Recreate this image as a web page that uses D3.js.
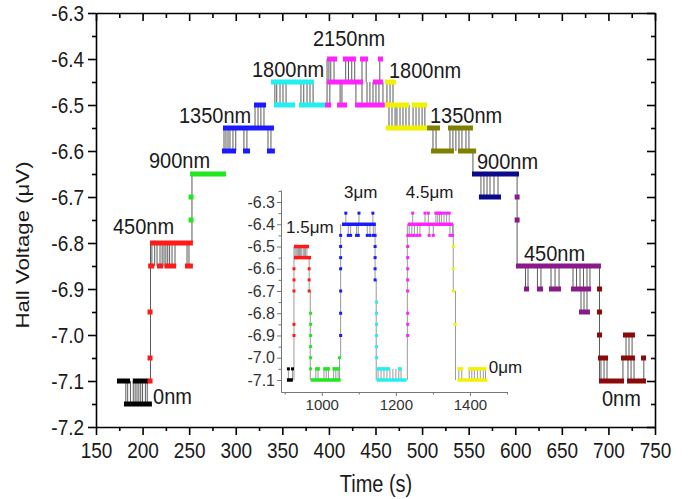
<!DOCTYPE html>
<html><head><meta charset="utf-8">
<script src="https://cdn.jsdelivr.net/npm/d3@7"></script>
<style>
body{margin:0;background:#fff}
svg{display:block}
text{font-family:Arial,"Liberation Sans",sans-serif}
</style>
</head><body>
<svg id="chart" width="698" height="499"></svg>
<script>
// ---------------- DATA ----------------
// main axes ticks
const xTicks = [150,200,250,300,350,400,450,500,550,600,650,700,750];
const xMinor = [175,225,275,325,375,425,475,525,575,625,675,725];
const yTicks = [-7.2,-7.1,-7.0,-6.9,-6.8,-6.7,-6.6,-6.5,-6.4,-6.3];
const yMinor = [-7.15,-7.05,-6.95,-6.85,-6.75,-6.65,-6.55,-6.45,-6.35];

// main series: flat runs [series, tStart, tEnd, voltage]
const mainRuns = [
  ["k",172.5,186.5,-7.1],["k",189.5,206,-7.1],["k",180,210,-7.15],
  ["r",208,254,-6.8],["r",206,212.5,-6.85],["r",215.5,222,-6.85],["r",223.5,236,-6.85],["r",245.5,254,-6.85],
  ["g",251,289.5,-6.65],
  ["b",286.3,341,-6.55],["b",285.2,300.3,-6.6],["b",307.8,315.3,-6.6],["b",333.5,342,-6.6],["b",319.6,332.5,-6.5],
  ["c",337.8,384,-6.45],["c",341,363.6,-6.5],["c",367.9,395.8,-6.5],
  ["m",398,408.7,-6.4],["m",415,429,-6.4],["m",433.4,442,-6.4],["m",452.7,458,-6.4],
  ["m",398,436.6,-6.45],["m",447.3,458,-6.45],
  ["m",395.8,402.3,-6.5],["m",408.7,419.4,-6.5],["m",428,460,-6.5],
  ["y",460.2,472,-6.45],["y",460.2,486,-6.5],["y",489,505.3,-6.5],["y",461,505.3,-6.55],
  ["o",505.3,519.2,-6.55],["o",527.8,554.6,-6.55],["o",509.6,534.3,-6.6],["o",538.5,558,-6.6],
  ["n",553.6,604,-6.65],["n",561,584.7,-6.7],
  ["p",600.8,692,-6.85],["p",609.4,614.8,-6.9],["p",623.3,629.8,-6.9],["p",636.2,649.1,-6.9],["p",659.8,681.3,-6.9],["p",668.4,680.2,-6.95],
  ["w",688.8,699.6,-7.05],["w",713.5,728.5,-7.05],["w",735,740.3,-7.05],
  ["w",689.9,716.7,-7.1],["w",720,740.3,-7.1],["w",715.6,728.5,-7.0]
];
// main single points [series, t, voltage]
const mainPoints = [
  ["r",208,-7.1],["r",208,-7.05],["r",208,-6.95],
  ["g",252,-6.75],["g",252,-6.7],
  ["p",602,-6.7],["p",602,-6.75],
  ["w",690.4,-6.9],["w",690.4,-6.95],["w",690.4,-7.0]
];
// main switching (grey connecting lines): [vA, vB, times]
const mainSwitches = [
  [-7.1,-7.15,[182,184,187,190,192,194,196,198,200,203,205]],
  [-7.1,-6.8,[208.5]],
  [-6.8,-6.85,[210,213,215.5,218.7,221,223,225,227,229,231.6,234.8,247.7,249.8]],
  [-6.8,-6.65,[253]],
  [-6.55,-6.6,[287.4,289.5,291.7,293.8,297,300,308.8,312,334.6,337.8]],
  [-6.5,-6.55,[320.7,323.9,327,330.3]],
  [-6.45,-6.5,[342,344,347.5,350.7,354,370,373,376.5,379.7,383]],
  [-6.4,-6.5,[398]],
  [-6.4,-6.45,[400,402,405.5,418,421,424.5,427.7,435.5,440,454.6]],
  [-6.45,-6.5,[401,412,414,429,435.5,440.9,444,447.3,450.5,453.7,458,462.3,465.6,468.8]],
  [-6.5,-6.55,[464.5,467.7,471,473,476.3,479.5,482.7,486,490.3,493.5,496.7,500,503]],
  [-6.55,-6.6,[511.7,515,529.9,533.1,536.3,539.6,542.8,547.1,550.3]],
  [-6.6,-6.65,[554.6]],
  [-6.65,-6.7,[563.2,566.4,569.7,572.9,577.2,581.5]],
  [-6.65,-6.85,[602]],
  [-6.85,-6.9,[611,613.7,623.8,627.6,638.4,642.7,647,662,665.8,669.5,673.3,677,680.2]],
  [-6.9,-6.95,[670.6,673.8,677]],
  [-6.85,-7.1,[690.4]],
  [-7.05,-7.1,[692,695.3,698.5,715.6,721,724.3,727.5,738]],
  [-7.0,-7.05,[718.9,722.1,725.4]]
];
// main annotations [text, t, voltage] (left baseline)
const mainLabels = [
  ["0nm",211.2,-7.148],["450nm",168.2,-6.778],["900nm",206.9,-6.635],
  ["1350nm",239.1,-6.537],["1800nm",317.4,-6.437],["2150nm",382.9,-6.370],
  ["1800nm",464.5,-6.439],["1350nm",508.5,-6.537],["900nm",558.9,-6.637],
  ["450nm",609.4,-6.837],["0nm",693.1,-7.152]
];

// inset
const ixTicks = [1000,1200,1400];
const ixMinor = [900,1100,1300,1500];
const iyTicks = [-7.1,-7.0,-6.9,-6.8,-6.7,-6.6,-6.5,-6.4,-6.3];
const iyMinor = [-7.05,-6.95,-6.85,-6.75,-6.65,-6.55,-6.45,-6.35,-6.25];
const insetRuns = [
  ["k",906,922,-7.1],
  ["r",925,965.6,-6.5],["r",925,971,-6.55],
  ["g",970,1051,-7.1],["g",982,995,-7.05],["g",1004,1022,-7.05],["g",1029,1049,-7.05],
  ["b",1054.6,1146,-6.4],
  ["c",1148,1229,-7.1],["c",1148,1184,-7.05],["c",1206,1216,-7.05],
  ["m",1232,1355,-6.4],
  ["y",1366,1447,-7.1],["y",1366,1382,-7.05],["y",1395.6,1445,-7.05]
];
const insetPoints = [
  ["k",910,-7.05],["k",921,-7.05],
  ["r",925,-6.9],["r",925,-6.85],["r",925,-6.7],["r",925,-6.65],["r",925,-6.6],
  ["r",966,-6.6],["r",966,-6.65],["r",966,-6.7],
  ["g",970,-6.8],["g",970,-6.85],["g",970,-6.9],["g",970,-6.95],["g",970,-7.0],["g",970,-7.05],["g",1048,-7.0],
  ["b",1051,-6.9],["b",1051,-6.8],["b",1051,-6.7],["b",1051,-6.6],["b",1051,-6.55],["b",1051,-6.5],["b",1051,-6.45],
  ["b",1065,-6.35],["b",1100.5,-6.35],["b",1138,-6.35],
  ["b",1071.6,-6.45],["b",1078,-6.45],["b",1094,-6.45],["b",1098.6,-6.45],["b",1122.9,-6.45],["b",1130,-6.45],["b",1139,-6.45],
  ["b",1144,-6.45],["b",1144,-6.5],["b",1144,-6.55],["b",1144,-6.6],["b",1144,-6.65],
  ["c",1148,-6.75],["c",1148,-6.8],["c",1148,-6.85],["c",1148,-6.9],["c",1148,-6.95],["c",1148,-7.0],
  ["m",1232,-6.45],["m",1232,-6.5],["m",1232,-6.55],["m",1232,-6.6],["m",1232,-6.65],["m",1232,-6.7],["m",1232,-6.8],["m",1232,-6.85],["m",1232,-6.9],
  ["m",1245.5,-6.35],["m",1278.7,-6.35],["m",1287.6,-6.35],["m",1308,-6.35],["m",1313,-6.35],["m",1318,-6.35],["m",1323,-6.35],["m",1330,-6.35],["m",1337,-6.35],["m",1344,-6.35],
  ["m",1236,-6.45],["m",1243,-6.45],["m",1250,-6.45],["m",1258,-6.45],["m",1265,-6.45],["m",1290,-6.45],["m",1301,-6.45],["m",1346,-6.45],["m",1353,-6.45],
  ["y",1355,-6.5],["y",1355,-6.6],["y",1355,-6.7],["y",1360,-6.85]
];
const insetSwitches = [
  [-7.05,-7.1,[910,921]],
  [-7.1,-6.5,[925]],
  [-6.5,-6.55,[928,931,934,937,940,943,946,950,953,956,960]],
  [-6.55,-6.7,[966]],
  [-6.7,-7.1,[969]],
  [-7.05,-7.1,[984,990,1006,1012,1018,1032,1038,1044]],
  [-7.1,-7.0,[1048]],
  [-7.0,-6.4,[1051]],
  [-6.35,-6.4,[1065,1100.5,1138]],
  [-6.4,-6.45,[1071.6,1078,1094,1098.6,1122.9,1130,1139]],
  [-6.4,-6.65,[1144]],
  [-6.65,-7.1,[1147]],
  [-7.05,-7.1,[1152,1160,1168,1176,1184,1192,1200,1208,1214]],
  [-7.1,-6.4,[1231]],
  [-6.35,-6.4,[1245.5,1278.7,1287.6,1308,1313,1318,1323,1330,1337,1344]],
  [-6.4,-6.45,[1236,1243,1250,1258,1265,1290,1301,1346,1353]],
  [-6.4,-6.7,[1355]],
  [-6.7,-7.1,[1361]],
  [-7.05,-7.1,[1370,1378,1398,1405,1412,1420,1428,1436,1442]]
];
const insetLabels = [
  ["1.5\u03bcm",903.5,-6.439],["3\u03bcm",1060,-6.282],["4.5\u03bcm",1227,-6.282],["0\u03bcm",1451,-7.069]
];

const seriesColor = {k:"#000000",r:"#ff1a1a",g:"#1fe81f",b:"#1a1aff",c:"#22f0f0",m:"#ff22ff",
  y:"#f2f200",o:"#808000",n:"#0a0a8a",p:"#8a1a8a",w:"#8a0a0a"};

// ---------------- DRAW ----------------
const svg = d3.select("#chart");
const x = d3.scaleLinear([150,750],[96,655]);
const y = d3.scaleLinear([-7.2,-6.3],[427,13]);
const ix = d3.scaleLinear([890,1500],[281,507]);
const iy = d3.scaleLinear([-7.154,-6.246],[392,190]);
const fmt1 = d => d.toFixed(1);

function styleAxis(g, sw, col, fs, tcol){
  g.selectAll("path.domain").attr("stroke",col).attr("stroke-width",sw);
  g.selectAll(".tick line").attr("stroke",col).attr("stroke-width",sw);
  g.selectAll("text").attr("font-size",fs).attr("fill",tcol).attr("font-family","Arial, 'Liberation Sans', sans-serif");
}
// the reference text is slightly taller than wide: stretch glyphs vertically about their centre
function stretch(sel, s){
  sel.each(function(){
    const b = this.getBBox();
    const cy = b.y + b.height/2;
    const old = this.getAttribute("transform") || "";
    this.setAttribute("transform", old + ` translate(0,${cy}) scale(1,${s}) translate(0,${-cy})`);
  });
}

// main axes
const ax = svg.append("g");
let g;
g = ax.append("g").attr("transform","translate(0,427)")
  .call(d3.axisBottom(x).tickValues(xTicks).tickSize(8).tickSizeOuter(0).tickPadding(8).tickFormat(d3.format("d")));
styleAxis(g,1.6,"#000",19,"#1a1a1a"); stretch(g.selectAll("text"),1.17);
g = ax.append("g").attr("transform","translate(0,427)")
  .call(d3.axisBottom(x).tickValues(xMinor).tickSize(4).tickFormat(""));
g.select("path.domain").remove(); styleAxis(g,1.6,"#000",0,"#000");
g = ax.append("g").attr("transform","translate(0,13)")
  .call(d3.axisBottom(x).tickValues(xTicks).tickSize(8).tickSizeOuter(0).tickFormat(""));
styleAxis(g,1.6,"#000",0,"#000");
g = ax.append("g").attr("transform","translate(0,13)")
  .call(d3.axisBottom(x).tickValues(xMinor).tickSize(5).tickFormat(""));
g.select("path.domain").remove(); styleAxis(g,1.6,"#000",0,"#000");

g = ax.append("g").attr("transform","translate(96,0)")
  .call(d3.axisLeft(y).tickValues(yTicks).tickSize(8).tickSizeOuter(0).tickPadding(4).tickFormat(fmt1));
styleAxis(g,1.6,"#000",19,"#1a1a1a"); stretch(g.selectAll("text"),1.17);
g = ax.append("g").attr("transform","translate(96,0)")
  .call(d3.axisLeft(y).tickValues(yMinor).tickSize(4).tickFormat(""));
g.select("path.domain").remove(); styleAxis(g,1.6,"#000",0,"#000");
g = ax.append("g").attr("transform","translate(655,0)")
  .call(d3.axisLeft(y).tickValues(yTicks).tickSize(8).tickSizeOuter(0).tickFormat(""));
styleAxis(g,1.6,"#000",0,"#000");
g = ax.append("g").attr("transform","translate(655,0)")
  .call(d3.axisLeft(y).tickValues(yMinor).tickSize(4).tickFormat(""));
g.select("path.domain").remove(); styleAxis(g,1.6,"#000",0,"#000");

stretch(svg.append("text").attr("x",376).attr("y",491).attr("text-anchor","middle")
  .attr("font-size",20).attr("fill","#1a1a1a").text("Time (s)"),1.15);
// rotated title: its length runs along the stretched (vertical) direction
svg.append("text").attr("transform","translate(29,245) scale(1,1.17) rotate(-90)").attr("text-anchor","middle")
  .attr("font-size",19).attr("fill","#1a1a1a").text("Hall Voltage (\u03bcV)");

// inset axes
const ia = svg.append("g");
g = ia.append("g").attr("transform","translate(0,392)")
  .call(d3.axisBottom(ix).tickValues(ixTicks).tickSize(4).tickSizeOuter(0).tickPadding(3).tickFormat(d3.format("d")));
styleAxis(g,1,"#777",15,"#333");
g = ia.append("g").attr("transform","translate(0,392)")
  .call(d3.axisBottom(ix).tickValues(ixMinor).tickSize(2.5).tickFormat(""));
g.select("path.domain").remove(); styleAxis(g,1,"#777",0,"#777");
g = ia.append("g").attr("transform","translate(281,0)")
  .call(d3.axisLeft(iy).tickValues(iyTicks).tickSize(4).tickSizeOuter(0).tickPadding(2).tickFormat(fmt1));
styleAxis(g,1,"#777",16,"#333");
g = ia.append("g").attr("transform","translate(281,0)")
  .call(d3.axisLeft(iy).tickValues(iyMinor).tickSize(2.5).tickFormat(""));
g.select("path.domain").remove(); styleAxis(g,1,"#777",0,"#777");

function drawPanel(xs, ys, runs, pts, sw, msize, thick, lineCol){
  const layer = svg.append("g");
  const segs = [];
  sw.forEach(([a,b,ts]) => ts.forEach(t => segs.push([t,a,b])));
  layer.append("g").selectAll("line").data(segs).join("line")
    .attr("x1",d=>xs(d[0])).attr("x2",d=>xs(d[0]))
    .attr("y1",d=>ys(d[1])).attr("y2",d=>ys(d[2]))
    .attr("stroke",lineCol).attr("stroke-width",1);
  layer.append("g").selectAll("rect").data(runs).join("rect")
    .attr("x",d=>xs(d[1])).attr("width",d=>Math.max(thick, xs(d[2])-xs(d[1])))
    .attr("y",d=>ys(d[3])-thick/2).attr("height",thick)
    .attr("fill",d=>seriesColor[d[0]]);
  layer.append("g").selectAll("rect").data(pts).join("rect")
    .attr("x",d=>xs(d[1])-msize/2).attr("width",msize)
    .attr("y",d=>ys(d[2])-msize/2).attr("height",msize)
    .attr("fill",d=>seriesColor[d[0]]);
}
drawPanel(x, y, mainRuns, mainPoints, mainSwitches, 5, 5, "#5a5a5a");
drawPanel(ix, iy, insetRuns, insetPoints, insetSwitches, 3, 3.5, "#9a9a9a");

stretch(svg.append("g").selectAll("text").data(mainLabels).join("text")
  .attr("x",d=>x(d[1])).attr("y",d=>y(d[2]))
  .attr("font-size",20).attr("fill","#1a1a1a").text(d=>d[0]),1.12);
svg.append("g").selectAll("text").data(insetLabels).join("text")
  .attr("x",d=>ix(d[1])).attr("y",d=>iy(d[2]))
  .attr("font-size",17).attr("fill","#1a1a1a").text(d=>d[0]);
</script>
</body></html>
